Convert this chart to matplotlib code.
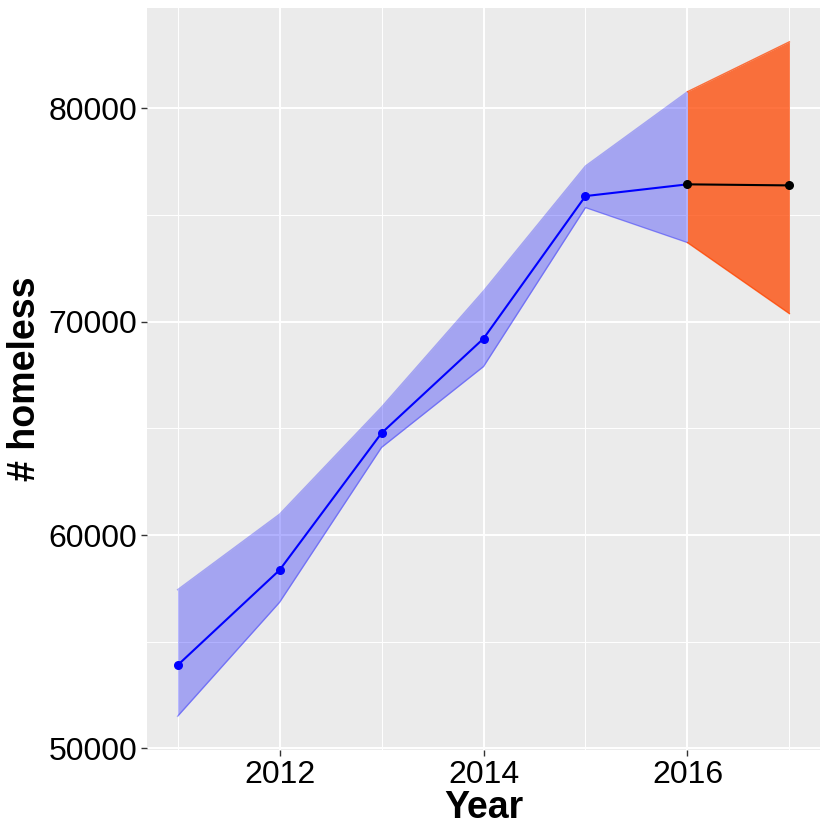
import numpy as np
import matplotlib.pyplot as plt

years = [2011, 2012, 2013, 2014, 2015, 2016]
homeless = [53900, 58360, 64780, 69210, 75890, 76440]
upper = [57440, 60980, 66000, 71440, 77300, 80780]
lower = [51510, 56850, 64110, 67900, 75350, 73710]

pred_years = [2016, 2017]
pred = [76440, 76390]
pred_upper = [80780, 83120]
pred_lower = [73710, 70380]

plt.rcParams['font.family'] = ['Liberation Sans', 'DejaVu Sans']

fig = plt.figure(figsize=(8.3, 8.3), dpi=100)
ax = fig.add_axes([147/830, 1 - 750/830, (820 - 147)/830, (750 - 8)/830])
ax.set_facecolor('#EBEBEB')

# observed series with band
ax.fill_between(years, lower, upper, color='blue', alpha=0.3, lw=0, zorder=2)
ax.plot(years, upper, color='blue', alpha=0.3, lw=1, zorder=2)
ax.plot(years, lower, color='blue', alpha=0.3, lw=1, zorder=2)
ax.plot(years, homeless, color='blue', lw=1.5, zorder=4)
ax.scatter(years[:-1], homeless[:-1], color='blue', s=30, zorder=5)

# forecast
ax.fill_between(pred_years, pred_lower, pred_upper, color='orangered', alpha=0.75, lw=0, zorder=3)
ax.plot(pred_years, pred_upper, color='orangered', alpha=0.75, lw=1, zorder=3)
ax.plot(pred_years, pred_lower, color='orangered', alpha=0.75, lw=1, zorder=3)
ax.plot(pred_years, pred, color='black', lw=1.5, zorder=4)
ax.scatter(pred_years, pred, color='black', s=30, zorder=5)

ax.set_xlim(2010.7, 2017.3)
ax.set_ylim(49927, 84705)
ax.set_xticks([2012, 2014, 2016])
ax.set_xticks([2011, 2013, 2015, 2017], minor=True)
ax.set_yticks([50000, 60000, 70000, 80000])
ax.set_yticks([55000, 65000, 75000], minor=True)
ax.grid(which='major', color='white', lw=1.4, zorder=0)
ax.grid(which='minor', color='white', lw=0.7, zorder=0)
ax.set_axisbelow(True)
for s in ax.spines.values():
    s.set_visible(False)
ax.tick_params(which='major', length=4, width=1, color='#333333', labelsize=23, labelcolor='black', pad=3)
ax.tick_params(which='minor', length=0)

ax.set_xlabel('Year', fontsize=27, fontweight='bold', labelpad=0)
ax.set_ylabel('# homeless', fontsize=27, fontweight='bold', labelpad=4)

fig.savefig('out.png', dpi=100)
